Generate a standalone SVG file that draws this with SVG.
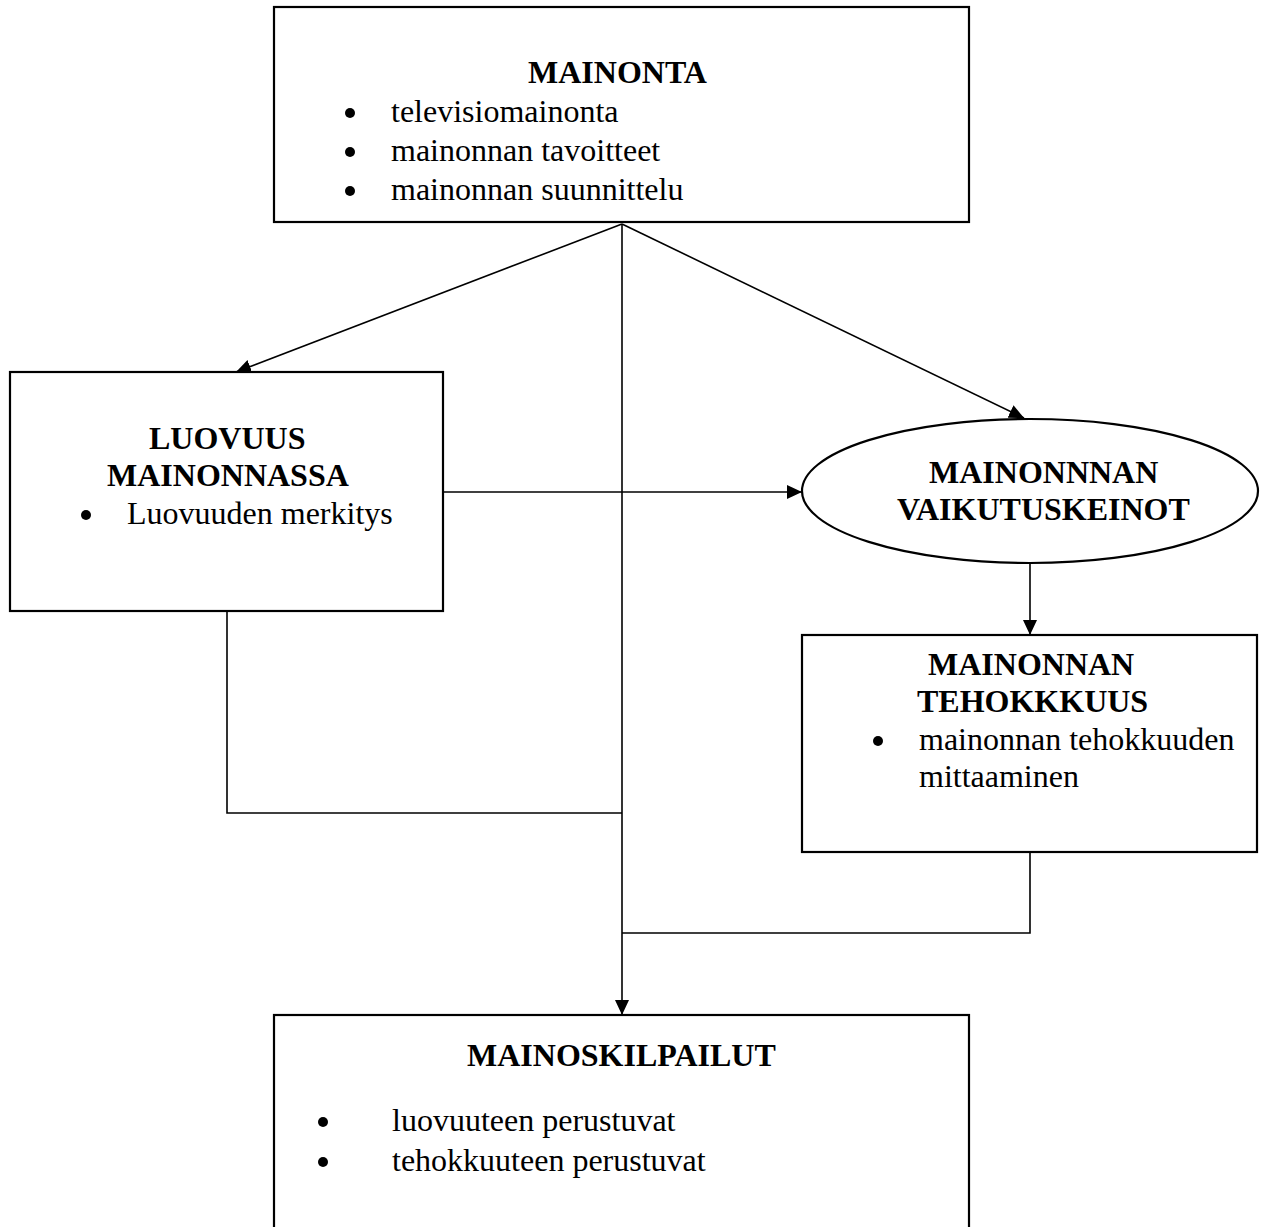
<svg xmlns="http://www.w3.org/2000/svg" width="1261" height="1227" viewBox="0 0 1261 1227">
<style>
.box{fill:#fff;stroke:#000;stroke-width:2.2}
.con{fill:none;stroke:#000;stroke-width:1.6}
.t{font-family:"Liberation Serif","Times New Roman",serif;font-size:32px;fill:#000}
.b{font-weight:bold}
.dot{fill:#000}
</style>
<defs>
<marker id="arr" markerUnits="userSpaceOnUse" markerWidth="16" markerHeight="14" refX="15" refY="7" orient="auto">
<path d="M0,0 L15,7 L0,14 z" fill="#000"/>
</marker>
</defs>
<rect width="1261" height="1227" fill="#fff"/>
<g id="connectors">
<path class="con" d="M622,224 L236,372" marker-end="url(#arr)"/>
<path class="con" d="M622,224 L1024,418" marker-end="url(#arr)"/>
<path class="con" d="M622,224 L622,1015" marker-end="url(#arr)"/>
<path class="con" d="M443,492 L802,492" marker-end="url(#arr)"/>
<path class="con" d="M1030,563 L1030,635" marker-end="url(#arr)"/>
<path class="con" d="M227,611 L227,813 L622,813"/>
<path class="con" d="M1030,852 L1030,933 L622,933"/>
</g>
<g id="mainonta">
<rect class="box" x="274" y="7" width="695" height="215"/>
<text class="t b" x="528" y="83">MAINONTA</text>
<circle class="dot" cx="350" cy="113" r="5"/>
<circle class="dot" cx="350" cy="152" r="5"/>
<circle class="dot" cx="350" cy="191" r="5"/>
<text class="t" x="391" y="122">televisiomainonta</text>
<text class="t" x="391" y="161">mainonnan tavoitteet</text>
<text class="t" x="391" y="200">mainonnan suunnittelu</text>
</g>
<g id="luovuus">
<rect class="box" x="10" y="372" width="433" height="239"/>
<text class="t b" x="149" y="449">LUOVUUS</text>
<text class="t b" x="107" y="486">MAINONNASSA</text>
<circle class="dot" cx="86" cy="515" r="5"/>
<text class="t" x="127" y="524">Luovuuden merkitys</text>
</g>
<g id="vaikutuskeinot">
<ellipse class="box" cx="1030" cy="491" rx="228" ry="72"/>
<text class="t b" x="929" y="483">MAINONNNAN</text>
<text class="t b" x="897" y="520">VAIKUTUSKEINOT</text>
</g>
<g id="tehokkuus">
<rect class="box" x="802" y="635" width="455" height="217"/>
<text class="t b" x="928" y="675">MAINONNAN</text>
<text class="t b" x="917" y="712">TEHOKKKUUS</text>
<circle class="dot" cx="878" cy="741" r="5"/>
<text class="t" x="919" y="750">mainonnan tehokkuuden</text>
<text class="t" x="919" y="787">mittaaminen</text>
</g>
<g id="mainoskilpailut">
<rect class="box" x="274" y="1015" width="695" height="230"/>
<text class="t b" x="467" y="1066">MAINOSKILPAILUT</text>
<circle class="dot" cx="323" cy="1122" r="5"/>
<circle class="dot" cx="323" cy="1162" r="5"/>
<text class="t" x="392" y="1131">luovuuteen perustuvat</text>
<text class="t" x="392" y="1171">tehokkuuteen perustuvat</text>
</g>
</svg>
